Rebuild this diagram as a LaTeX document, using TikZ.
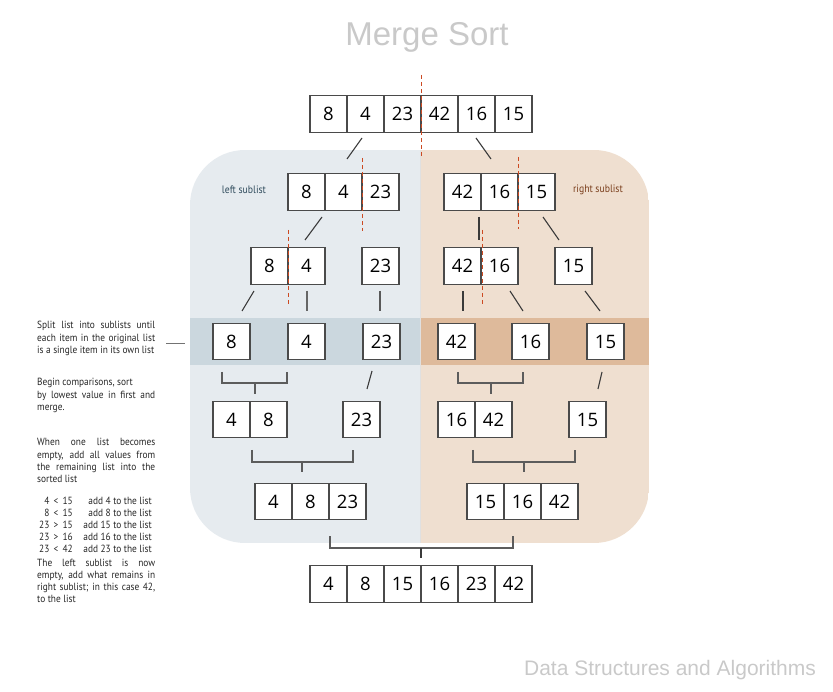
\documentclass[tikz,border=0pt]{standalone}
\usepackage{fontspec}
\setmainfont{Open Sans}
\newfontfamily\titlefont{Liberation Sans}
\newfontfamily\smallfont[FakeStretch=0.9]{PT Sans}
\definecolor{leftbg}{HTML}{E6EBEF}
\definecolor{rightbg}{HTML}{EFDFD0}
\definecolor{leftband}{HTML}{CBD7DE}
\definecolor{rightband}{HTML}{DEBA9B}
\definecolor{redash}{HTML}{CC4A22}
\definecolor{boxline}{HTML}{4A4A4A}
\definecolor{linkc}{HTML}{3A3A3A}
\definecolor{greytext}{HTML}{C9C9C9}
\definecolor{leftlab}{HTML}{2F4B5C}
\definecolor{rightlab}{HTML}{7A3E1C}
\newcommand\cellrow[4]{%
  \foreach \v [count=\i] in {#4} {%
    \node[cell] (#1-\i) at ({#2+37*\i-18.5},#3) {\v};}}
\newcommand\jline[1]{\makebox[118pt][s]{#1}}
\begin{document}
\begin{tikzpicture}[x=1pt,y=-1pt,
  cell/.style={draw=boxline,line width=1.2pt,fill=white,minimum width=37pt,minimum height=36.5pt,inner sep=0pt,outer sep=0pt,font=\fontsize{18.5}{18.5}\selectfont},
  link/.style={draw=linkc,line width=1.1pt},
  brack/.style={draw=boxline!90,line width=1.4pt},
  split/.style={draw=redash,line width=1pt,dash pattern=on 4pt off 3pt},
  note/.style={anchor=base west,inner sep=0pt,font=\smallfont\fontsize{10.4}{12.3}\selectfont,text=black!85}]
\useasboundingbox (0,0) rectangle (833,692);
% background regions
\begin{scope}
  \clip[rounded corners=55pt] (190,150) rectangle (649,543);
  \fill[leftbg] (190,150) rectangle (420,543);
  \fill[rightbg] (420,150) rectangle (649,543);
  \fill[leftband] (190,318) rectangle (420,365);
  \fill[rightband] (420,318) rectangle (649,365);
  \draw[color=black!12,line width=0.8pt] (420,150) -- (420,543);
\end{scope}
% title and footer
\node[text=greytext,font=\titlefont\fontsize{33}{33}\selectfont] (title) at (427,37) {Merge Sort};
\node[text=greytext,font=\titlefont\fontsize{21}{21}\selectfont] (footer) at (670,670) {Data Structures and Algorithms};
\node[text=leftlab,font=\smallfont\fontsize{10.8}{11}\selectfont] (leftlab) at (244,190) {left sublist};
\node[text=rightlab,font=\smallfont\fontsize{10.8}{11}\selectfont] (rightlab) at (598,190) {right sublist};
% red split lines
\coordinate (s1a) at (421,75); \coordinate (s1b) at (421,156);
\coordinate (s2a) at (362,158); \coordinate (s2b) at (362,231);
\coordinate (s3a) at (518,157); \coordinate (s3b) at (518,229);
\coordinate (s4a) at (288,230); \coordinate (s4b) at (288,304);
\coordinate (s5a) at (482,230); \coordinate (s5b) at (482,304);
% rows
\cellrow{ra}{310}{114}{8,4,23,42,16,15}
\cellrow{rbl}{288}{192}{8,4,23}
\cellrow{rbr}{444}{192}{42,16,15}
\cellrow{rcl}{251}{266}{8,4}
\cellrow{rcm}{362}{266}{23}
\cellrow{rcn}{444}{266}{42,16}
\cellrow{rcr}{555}{266}{15}
\cellrow{rd1}{213}{341.5}{8}
\cellrow{rd2}{288}{341.5}{4}
\cellrow{rd3}{363}{341.5}{23}
\cellrow{rd4}{438}{341.5}{42}
\cellrow{rd5}{512}{341.5}{16}
\cellrow{rd6}{587}{341.5}{15}
\cellrow{rel}{213}{419.5}{4,8}
\cellrow{rem}{343}{419.5}{23}
\cellrow{ren}{438}{419.5}{16,42}
\cellrow{rer}{569}{419.5}{15}
\cellrow{rfl}{255}{501.5}{4,8,23}
\cellrow{rfr}{467}{501.5}{15,16,42}
\cellrow{rg}{310}{584}{4,8,15,16,23,42}
\draw[split] (s1a) -- (s1b);
\draw[split] (s2a) -- (s2b);
\draw[split] (s3a) -- (s3b);
\draw[split] (s4a) -- (s4b);
\draw[split] (s5a) -- (s5b);
% split connectors
\draw[link] (362,138) -- (347,159);
\draw[link] (476,138) -- (491,159);
\draw[link] (322,217) -- (305,240);
\draw[link] (479,217) -- (479,240);
\draw[link] (543,217) -- (559,240);
\draw[link] (254,291) -- (242,311);
\draw[draw=black!60,line width=2pt] (307,291) -- (307,311);
\draw[draw=black!65,line width=1.4pt] (380,291) -- (380,311);
\draw[link] (463,291) -- (463,311);
\draw[link] (510,291) -- (523,311);
\draw[link] (585,291) -- (600,311);
% merge brackets
\draw[brack] (222,372) -- (222,383) -- (287,383) -- (287,372);
\draw[brack] (255,383) -- (255,394);
\draw[brack] (458,372) -- (458,383) -- (523,383) -- (523,372);
\draw[brack] (491,383) -- (491,394);
\draw[link] (372,371) -- (367,389);
\draw[link] (602,372) -- (598,389);
\draw[brack] (252,450) -- (252,462) -- (353,462) -- (353,450);
\draw[brack] (302,462) -- (302,472);
\draw[brack] (473,450) -- (473,462) -- (575,462) -- (575,450);
\draw[brack] (524,462) -- (524,472);
\draw[brack] (330,536) -- (330,548) -- (513,548) -- (513,536);
\draw[linkc,line width=1.4pt] (421,548) -- (421,558);
% notes
\draw[draw=black!55,line width=0.8pt] (166,343) -- (185,343);
\node[note] (n1) at (37,329) {\parbox[t]{118pt}{\jline{Split list into sublists until}\\\jline{each item in the original list}\\is a single item in its own list}};
\node[note] (n2) at (37,386) {\parbox[t]{118pt}{Begin comparisons, sort\\\jline{by lowest value in first and}\\merge.}};
\node[note] (n3) at (37,446) {\parbox[t]{118pt}{\jline{When one list becomes}\\\jline{empty, add all values from}\\\jline{the remaining list into the}\\sorted list}};
\foreach \a/\b/\y in {4\ \,<\ \,15/add 4 to the list/504, 8\ \,<\ \,15/add 8 to the list/516, 23\ \,>\ \,15/add 15 to the list/528, 23\ \,>\ \,16/add 16 to the list/540, 23\ \,<\ \,42/add 23 to the list/552}{
  \node[note,anchor=base east] at (73,\y) {\a};
  \node[note,anchor=base east] at (152,\y) {\b};
}
\node[note] (n4) at (37,566) {\parbox[t]{118pt}{\jline{The left sublist is now}\\\jline{empty, add what remains in}\\\jline{right sublist; in this case 42,}\\to the list}};
\end{tikzpicture}
\end{document}
